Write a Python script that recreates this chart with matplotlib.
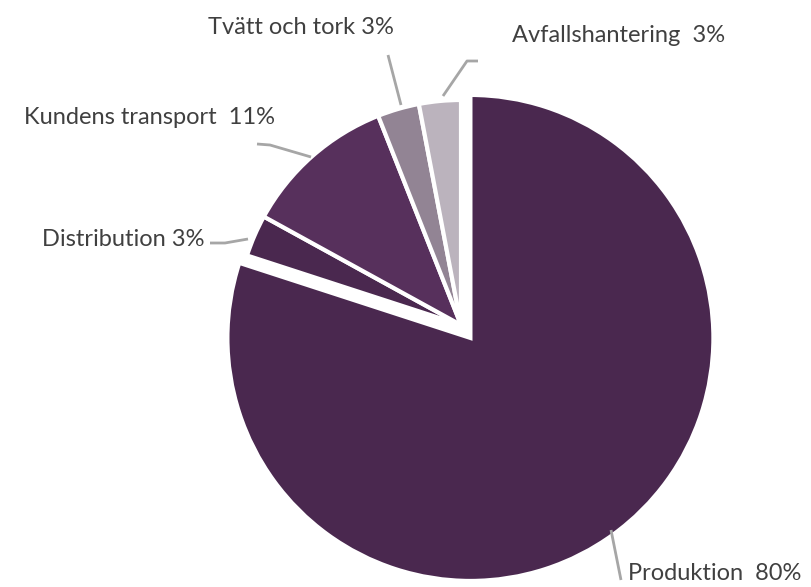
import matplotlib.pyplot as plt
import numpy as np

labels = ['Produktion  80%', 'Distribution 3%', 'Kundens transport  11%',
          'Tvätt och tork 3%', 'Avfallshantering  3%']
values = [80, 3, 11, 3, 3]
colors = ['#4a284f', '#4a284f', '#57305c', '#928494', '#bbb3bd']

plt.rcParams['font.family'] = ['Lato', 'DejaVu Sans']

W, H = 811, 587
fig = plt.figure(figsize=(W / 100, H / 100), dpi=100)
ax = fig.add_axes([0, 0, 1, 1])

def py(y):
    return H - y

center = (461, py(325))
wedges, _ = ax.pie(values, colors=colors, startangle=90, counterclock=False,
                   radius=225, center=center, explode=[16, 0, 0, 0, 0],
                   wedgeprops=dict(edgecolor='white', linewidth=3),
                   frame=True)
wedges[0].set_radius(243)
ax.set_xlim(0, W)
ax.set_ylim(0, H)
ax.axis('off')

txt = dict(color='#404040', fontsize=17, va='center')
ax.text(628, py(573), labels[0], ha='left', **txt)
ax.text(205, py(240), labels[1], ha='right', **txt)
ax.text(149, py(117), labels[2], ha='center', **txt)
ax.text(301, py(28), labels[3], ha='center', **txt)
ax.text(619, py(35), labels[4], ha='center', **txt)

line = dict(color='#a6a6a6', lw=2, solid_capstyle='butt')
leaders = [
    [(611, 530), (621, 580)],
    [(210, 243), (225, 243), (248, 239)],
    [(257, 144), (270, 145), (311, 157)],
    [(388, 55), (401, 105)],
    [(478, 61), (467, 61), (443, 96)],
]
for pts in leaders:
    xs = [p[0] for p in pts]
    ys = [py(p[1]) for p in pts]
    ax.plot(xs, ys, **line)

fig.savefig('out.png', dpi=100, facecolor='white')
